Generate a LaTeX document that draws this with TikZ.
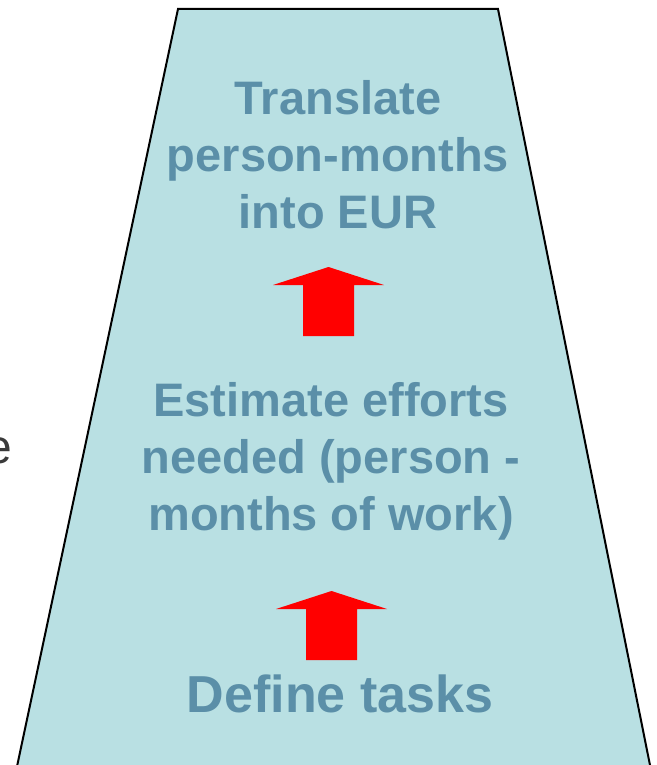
\documentclass[tikz,border=0pt]{standalone}
\usepackage{fontspec}
\setmainfont{Liberation Sans}
\usepackage{tikz}
\usetikzlibrary{positioning}
\definecolor{funnelfill}{HTML}{B9E0E3}
\definecolor{stepblue}{HTML}{5B8FA8}
\definecolor{cutgray}{HTML}{3A3A3A}
\tikzset{blockarrow/.pic={\fill[red] (-25.5,0) -- (-25.5,-51) -- (-55.5,-51) -- (0,-69) -- (55.5,-51) -- (25.5,-51) -- (25.5,0) -- cycle;}}

\begin{document}
\begin{tikzpicture}[x=1pt, y=-1pt, stepnode/.style={align=center, anchor=base, inner sep=0pt, text=stepblue, font=\fontsize{47}{57}\selectfont\bfseries}, bigstep/.style={stepnode, font=\fontsize{52}{62}\selectfont\bfseries}, cutnode/.style={anchor=base west, inner sep=0pt, text=cutgray, font=\fontsize{48}{58}\selectfont}]

    \clip (0,0) rectangle (656,765);

    %Funnel
    \filldraw[fill=funnelfill, draw=black, line width=2pt, line join=miter] (178,9) -- (498,9) -- (655,790) -- (12,790) -- cycle;

    %Nodes
    \node[cutnode](cut) at (-15,463) {e};
    \node[stepnode](translate) at (338,228) {Translate\\person-months\\into EUR};
    \node[stepnode](estimate) at (331,530) {Estimate efforts\\needed (person -\\months of work)};
    \node[bigstep](define) at (340,712) {Define tasks};
    \coordinate (upper) at (328.5,336);
    \coordinate (lower) at (331.5,660);

    %Arrows
    \pic at (upper) {blockarrow};
    \pic at (lower) {blockarrow};

\end{tikzpicture}
\end{document}
